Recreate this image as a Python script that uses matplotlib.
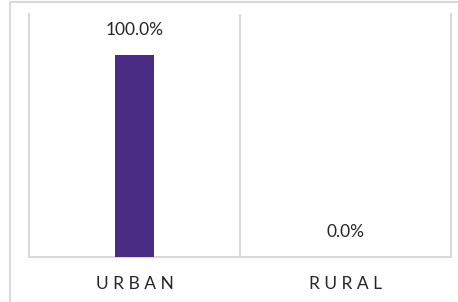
import matplotlib
matplotlib.use("Agg")
import matplotlib.pyplot as plt
from matplotlib.lines import Line2D

plt.rcParams["font.family"] = ["Lato", "DejaVu Sans"]

categories = ["URBAN", "RURAL"]
shares = [100.0, 0.0]

bar_color = "#4a2c84"
grid_color = "#d9d9d9"
text_color = "#262626"

fig = plt.figure(figsize=(4.58, 3.02), dpi=100)
ax = fig.add_axes([29 / 458, 45 / 302, 422 / 458, 243 / 302])

# outer chart border: only the left and top edges fall inside the picture
bx, by = 9.5 / 458, 1 - 1.5 / 302
fig.lines.append(Line2D([bx, bx], [0, by], transform=fig.transFigure,
                        color=grid_color, linewidth=1.5))
fig.lines.append(Line2D([bx, 1], [by, by], transform=fig.transFigure,
                        color=grid_color, linewidth=1.5))

x = range(len(categories))
bars = ax.bar(x, shares, width=0.185, color=bar_color, zorder=3)
ax.bar_label(bars, labels=[f"{v:.1f}%" for v in shares], padding=12,
             fontsize=12.5, color=text_color)

ax.set_xlim(-0.5, 1.5)
ax.set_ylim(0, 120)
ax.set_yticks([])
ax.set_xticks(list(x))
ax.set_xticklabels([" ".join(c) for c in categories], fontsize=12.5,
                   color=text_color)
ax.tick_params(axis="x", length=0, pad=14)

ax.set_xticks([0.5], minor=True)
ax.tick_params(axis="x", which="minor", length=0)
ax.grid(True, axis="x", which="minor", color=grid_color, linewidth=1.5)

for side in ["left", "right", "bottom"]:
    ax.spines[side].set_color(grid_color)
    ax.spines[side].set_linewidth(1.5)
ax.spines["top"].set_visible(False)

fig.savefig("out.png", dpi=100, facecolor="white")
